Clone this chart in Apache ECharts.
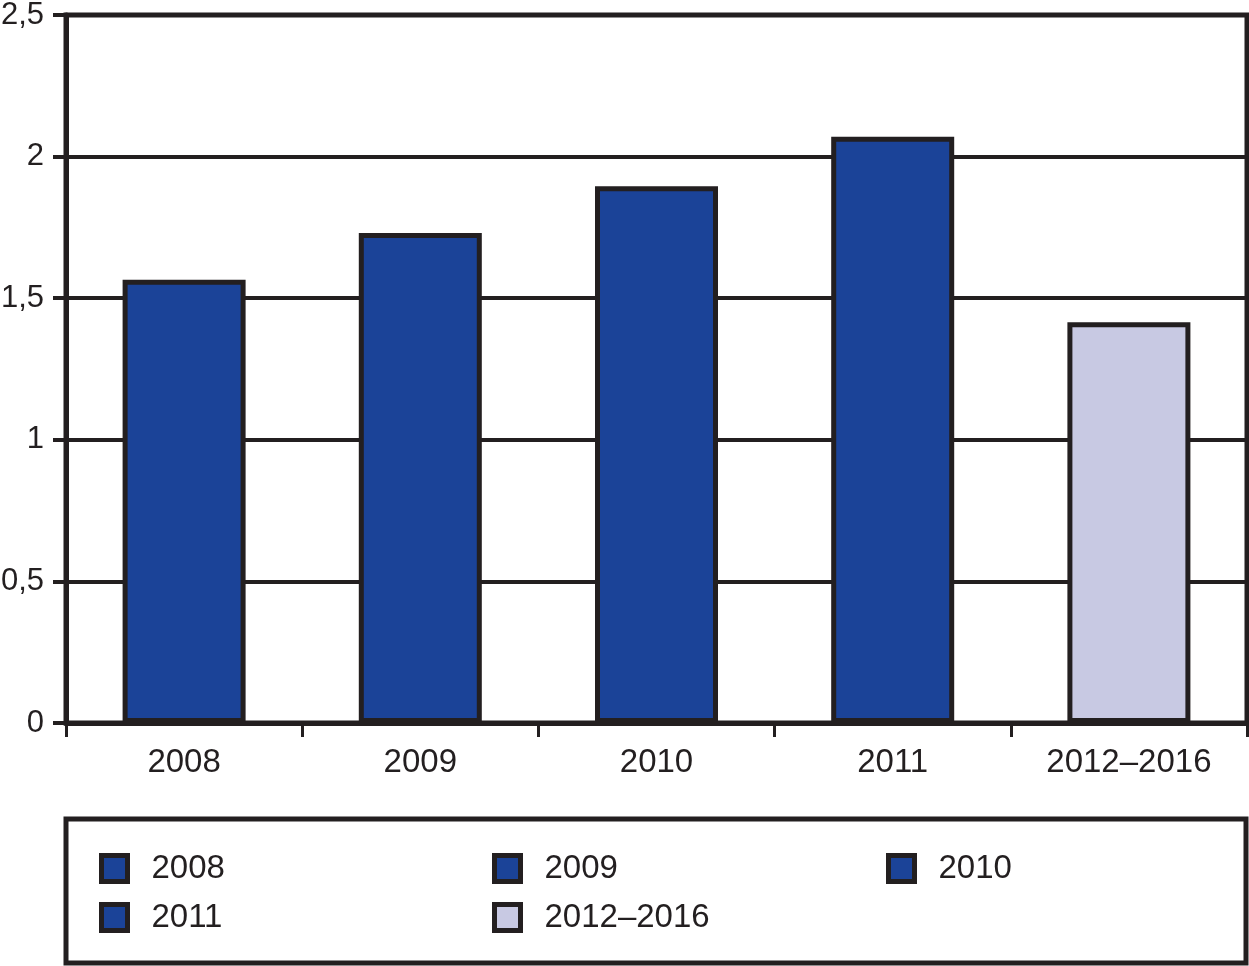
<!DOCTYPE html>
<html>
<head>
<meta charset="utf-8">
<script src="https://cdn.jsdelivr.net/npm/echarts@6/dist/echarts.min.js"></script>
<style>html,body{margin:0;padding:0;background:#fff}#c{width:1249px;height:966px}</style>
</head>
<body>
<div id="c"></div>
<script>
const categories = ['2008', '2009', '2010', '2011', '2012\u20132016'];
const values = [1.565, 1.73, 1.895, 2.07, 1.415];
const yTickLabels = ['0', '0,5', '1', '1,5', '2', '2,5'];
const seriesColors = ['#1B4398', '#1B4398', '#1B4398', '#1B4398', '#C8C9E3'];

const INK = '#231F20';
const FONT = 'Liberation Sans, Arial, sans-serif';

const series = categories.map((name, i) => ({
  name: name,
  type: 'bar',
  stack: 'all',
  barWidth: 123,
  data: categories.map((c, j) => (j === i ? values[i] : '-')),
  itemStyle: { color: seriesColors[i], borderColor: INK, borderWidth: 5 },
  emphasis: { disabled: true }
}));

const legendPos = [
  { left: 99, top: 852 },
  { left: 492, top: 852 },
  { left: 886, top: 852 },
  { left: 99, top: 901 },
  { left: 492, top: 901 }
];
const legends = categories.map((name, i) => ({
  data: [name],
  left: legendPos[i].left,
  top: legendPos[i].top,
  padding: 0,
  itemWidth: 26,
  itemHeight: 26,
  icon: 'rect',
  selectedMode: false,
  itemStyle: { borderColor: INK, borderWidth: 5 },
  textStyle: { color: INK, fontSize: 33, fontFamily: FONT, padding: [0, 0, 0, 19] }
}));

const chart = echarts.init(document.getElementById('c'), null, { renderer: 'canvas' });
chart.setOption({
  animation: false,
  backgroundColor: '#ffffff',
  grid: {
    left: 66, right: 2, top: 15, bottom: 243,
    containLabel: false, outerBoundsMode: 'none',
    show: true, borderColor: INK, borderWidth: 5, backgroundColor: 'transparent'
  },
  xAxis: {
    type: 'category',
    data: categories,
    boundaryGap: true,
    axisLine: { show: true, lineStyle: { color: INK, width: 5 } },
    axisTick: { show: true, length: 14, lineStyle: { color: INK, width: 3 } },
    axisLabel: { color: INK, fontSize: 33, fontFamily: FONT, margin: 23, interval: 0 },
    splitLine: { show: false }
  },
  yAxis: {
    type: 'value',
    min: 0,
    max: 2.5,
    interval: 0.5,
    axisLine: { show: true, lineStyle: { color: INK, width: 5 } },
    axisTick: { show: true, length: 13, lineStyle: { color: INK, width: 4 } },
    axisLabel: {
      color: INK, fontSize: 31, fontFamily: FONT, margin: 22,
      formatter: (v) => yTickLabels[Math.round(v / 0.5)]
    },
    splitLine: { show: true, lineStyle: { color: INK, width: 4 } }
  },
  legend: legends,
  graphic: [{
    type: 'rect',
    shape: { x: 66, y: 819, width: 1180, height: 144 },
    style: { fill: 'none', stroke: INK, lineWidth: 5 },
    silent: true
  }],
  series: series
});
</script>
</body>
</html>
